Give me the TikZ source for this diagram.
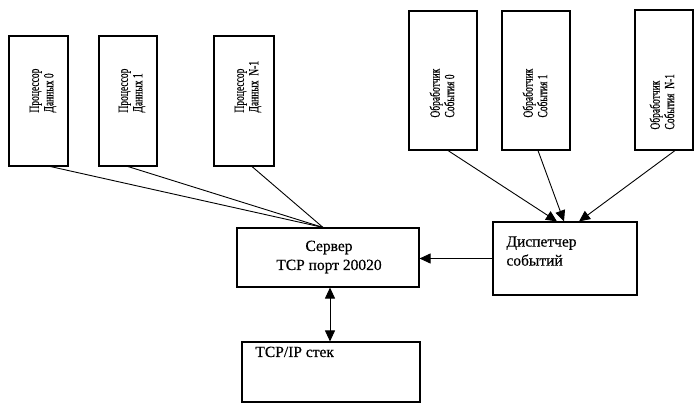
\documentclass[tikz,border=0pt]{standalone}
\usepackage{fontspec}
\setmainfont{Liberation Serif}
\newfontfamily\scanfont[FakeBold=0.5]{Liberation Serif}
\newfontfamily\narrowfont[FakeStretch=0.68,FakeBold=0.6]{Liberation Serif}
\usetikzlibrary{arrows.meta}

\begin{document}
\begin{tikzpicture}[x=1pt,y=-1pt,line width=0.9pt,
  box/.style={draw,line width=1.1pt,rectangle,inner sep=0pt},
  vtext/.style={rotate=90,anchor=west,align=left,inner sep=0pt,font=\narrowfont\fontsize{14}{14.5}\selectfont},
  htext/.style={inner sep=0pt,font=\scanfont\fontsize{15.5}{19}\selectfont},
  tip/.style={-{Triangle[length=11pt,width=10pt]}}]
\useasboundingbox (0,0) rectangle (694,403);

% processors
\node[box,minimum width=59pt,minimum height=130pt] (p0) at (38.5,101) {};
\node[box,minimum width=58pt,minimum height=130pt] (p1) at (128,101) {};
\node[box,minimum width=60pt,minimum height=130pt] (pN) at (244,101) {};
\node[vtext] (p0t) at (43,113) {Процессор\\Данных 0};
\node[vtext] (p1t) at (132,113) {Процессор\\Данных 1};
\node[vtext] (pNt) at (248,113) {Процессор\\Данных\ \ N-1};

% handlers
\node[box,minimum width=68pt,minimum height=139pt] (h0) at (443,80.5) {};
\node[box,minimum width=68pt,minimum height=139pt] (h1) at (536,80.5) {};
\node[box,minimum width=58pt,minimum height=140pt] (hN) at (664,80) {};
\node[vtext] (h0t) at (442,118) {Обработчик\\События 0};
\node[vtext] (h1t) at (535,118) {Обработчик\\События 1};
\node[vtext] (hNt) at (662,130) {Обработчик\\События\ \ N-1};

% server, dispatcher, stack
\node[box,minimum width=182pt,minimum height=59pt] (srv) at (328,257.5) {};
\node[htext,align=center] (srvt) at (329,257) {Сервер\\TCP порт 20020};
\node[box,minimum width=144pt,minimum height=73pt] (dsp) at (565,258.5) {};
\node[htext,align=left,anchor=north west] (dspt) at (506,236) {Диспетчер\\событий};
\node[box,minimum width=178pt,minimum height=60pt] (stk) at (331,372) {};
\node[htext,anchor=base west] (stkt) at (255,357) {TCP/IP стек};

\draw ([xshift=12pt]p0.south) -- ([xshift=-5pt]srv.north);
\draw (p1.south) -- ([xshift=-5pt]srv.north);
\draw ([xshift=8pt]pN.south) -- ([xshift=-5pt]srv.north);

\draw[tip] ([xshift=5pt]h0.south) -- ([xshift=-8pt]dsp.north);
\draw[tip] ([xshift=2pt]h1.south) -- ([xshift=-1pt]dsp.north);
\draw[tip] ([xshift=11pt]hN.south) -- ([xshift=14pt]dsp.north);

\draw[tip] (dsp.west) -- (dsp.west -| srv.east);
\draw[{Triangle[length=11pt,width=10pt]}-{Triangle[length=11pt,width=10pt]}] ([xshift=2pt]srv.south) -- ([xshift=-1pt]stk.north);
\end{tikzpicture}
\end{document}
